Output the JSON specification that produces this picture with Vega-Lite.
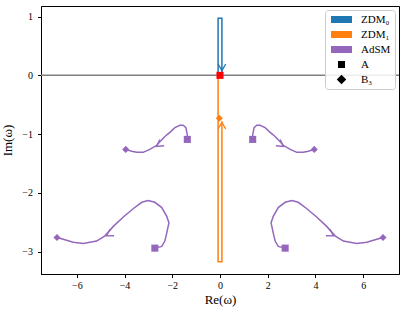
{
  "$schema": "https://vega.github.io/schema/vega-lite/v6.json",
  "width": 358,
  "height": 268,
  "autosize": "none",
  "padding": {"left": 41, "top": 6, "right": 8, "bottom": 40},
  "background": "white",
  "config": {
    "font": "Liberation Serif",
    "view": {"stroke": "black", "strokeWidth": 1},
    "axis": {
      "labelFont": "Liberation Serif",
      "labelFontSize": 10,
      "labelColor": "black",
      "titleFont": "Liberation Serif",
      "titleFontSize": 13,
      "titleFontWeight": "normal",
      "titleColor": "black",
      "tickColor": "black",
      "tickSize": 3.5,
      "domainColor": "black",
      "grid": false
    }
  },
  "datasets": {
    "paths": [
      {"curve": "zdm0", "series": "ZDM₀", "seq": 0, "x": -0.08, "y": 0.0},
      {"curve": "zdm0", "series": "ZDM₀", "seq": 1, "x": -0.08, "y": 0.97},
      {"curve": "zdm0", "series": "ZDM₀", "seq": 2, "x": 0.08, "y": 0.97},
      {"curve": "zdm0", "series": "ZDM₀", "seq": 3, "x": 0.08, "y": 0.0},
      {"curve": "zdm1", "series": "ZDM₁", "seq": 0, "x": -0.08, "y": -0.02},
      {"curve": "zdm1", "series": "ZDM₁", "seq": 1, "x": -0.08, "y": -3.17},
      {"curve": "zdm1", "series": "ZDM₁", "seq": 2, "x": 0.08, "y": -3.17},
      {"curve": "zdm1", "series": "ZDM₁", "seq": 3, "x": 0.08, "y": -0.78},
      {"curve": "ul", "series": "AdSM", "seq": 0, "x": -1.37, "y": -1.09},
      {"curve": "ul", "series": "AdSM", "seq": 1, "x": -1.37, "y": -1.01},
      {"curve": "ul", "series": "AdSM", "seq": 2, "x": -1.43, "y": -0.89},
      {"curve": "ul", "series": "AdSM", "seq": 3, "x": -1.54, "y": -0.85},
      {"curve": "ul", "series": "AdSM", "seq": 4, "x": -1.68, "y": -0.85},
      {"curve": "ul", "series": "AdSM", "seq": 5, "x": -1.89, "y": -0.89},
      {"curve": "ul", "series": "AdSM", "seq": 6, "x": -2.1, "y": -0.97},
      {"curve": "ul", "series": "AdSM", "seq": 7, "x": -2.31, "y": -1.04},
      {"curve": "ul", "series": "AdSM", "seq": 8, "x": -2.52, "y": -1.13},
      {"curve": "ul", "series": "AdSM", "seq": 9, "x": -2.65, "y": -1.19},
      {"curve": "ul", "series": "AdSM", "seq": 10, "x": -2.94, "y": -1.26},
      {"curve": "ul", "series": "AdSM", "seq": 11, "x": -3.22, "y": -1.31},
      {"curve": "ul", "series": "AdSM", "seq": 12, "x": -3.49, "y": -1.31},
      {"curve": "ul", "series": "AdSM", "seq": 13, "x": -3.7, "y": -1.29},
      {"curve": "ul", "series": "AdSM", "seq": 14, "x": -3.95, "y": -1.26},
      {"curve": "ur", "series": "AdSM", "seq": 0, "x": 1.37, "y": -1.09},
      {"curve": "ur", "series": "AdSM", "seq": 1, "x": 1.37, "y": -1.01},
      {"curve": "ur", "series": "AdSM", "seq": 2, "x": 1.43, "y": -0.89},
      {"curve": "ur", "series": "AdSM", "seq": 3, "x": 1.54, "y": -0.85},
      {"curve": "ur", "series": "AdSM", "seq": 4, "x": 1.68, "y": -0.85},
      {"curve": "ur", "series": "AdSM", "seq": 5, "x": 1.89, "y": -0.89},
      {"curve": "ur", "series": "AdSM", "seq": 6, "x": 2.1, "y": -0.97},
      {"curve": "ur", "series": "AdSM", "seq": 7, "x": 2.31, "y": -1.04},
      {"curve": "ur", "series": "AdSM", "seq": 8, "x": 2.52, "y": -1.13},
      {"curve": "ur", "series": "AdSM", "seq": 9, "x": 2.65, "y": -1.19},
      {"curve": "ur", "series": "AdSM", "seq": 10, "x": 2.94, "y": -1.26},
      {"curve": "ur", "series": "AdSM", "seq": 11, "x": 3.22, "y": -1.31},
      {"curve": "ur", "series": "AdSM", "seq": 12, "x": 3.49, "y": -1.31},
      {"curve": "ur", "series": "AdSM", "seq": 13, "x": 3.7, "y": -1.29},
      {"curve": "ur", "series": "AdSM", "seq": 14, "x": 3.95, "y": -1.26},
      {"curve": "ll", "series": "AdSM", "seq": 0, "x": -2.73, "y": -2.94},
      {"curve": "ll", "series": "AdSM", "seq": 1, "x": -2.44, "y": -2.91},
      {"curve": "ll", "series": "AdSM", "seq": 2, "x": -2.31, "y": -2.82},
      {"curve": "ll", "series": "AdSM", "seq": 3, "x": -2.23, "y": -2.68},
      {"curve": "ll", "series": "AdSM", "seq": 4, "x": -2.14, "y": -2.51},
      {"curve": "ll", "series": "AdSM", "seq": 5, "x": -2.23, "y": -2.4},
      {"curve": "ll", "series": "AdSM", "seq": 6, "x": -2.44, "y": -2.25},
      {"curve": "ll", "series": "AdSM", "seq": 7, "x": -2.73, "y": -2.16},
      {"curve": "ll", "series": "AdSM", "seq": 8, "x": -3.01, "y": -2.13},
      {"curve": "ll", "series": "AdSM", "seq": 9, "x": -3.28, "y": -2.16},
      {"curve": "ll", "series": "AdSM", "seq": 10, "x": -3.64, "y": -2.27},
      {"curve": "ll", "series": "AdSM", "seq": 11, "x": -4.05, "y": -2.41},
      {"curve": "ll", "series": "AdSM", "seq": 12, "x": -4.47, "y": -2.57},
      {"curve": "ll", "series": "AdSM", "seq": 13, "x": -4.82, "y": -2.73},
      {"curve": "ll", "series": "AdSM", "seq": 14, "x": -5.17, "y": -2.82},
      {"curve": "ll", "series": "AdSM", "seq": 15, "x": -5.73, "y": -2.86},
      {"curve": "ll", "series": "AdSM", "seq": 16, "x": -6.15, "y": -2.84},
      {"curve": "ll", "series": "AdSM", "seq": 17, "x": -6.57, "y": -2.79},
      {"curve": "ll", "series": "AdSM", "seq": 18, "x": -6.83, "y": -2.76},
      {"curve": "lr", "series": "AdSM", "seq": 0, "x": 2.73, "y": -2.94},
      {"curve": "lr", "series": "AdSM", "seq": 1, "x": 2.44, "y": -2.91},
      {"curve": "lr", "series": "AdSM", "seq": 2, "x": 2.31, "y": -2.82},
      {"curve": "lr", "series": "AdSM", "seq": 3, "x": 2.23, "y": -2.68},
      {"curve": "lr", "series": "AdSM", "seq": 4, "x": 2.14, "y": -2.51},
      {"curve": "lr", "series": "AdSM", "seq": 5, "x": 2.23, "y": -2.4},
      {"curve": "lr", "series": "AdSM", "seq": 6, "x": 2.44, "y": -2.25},
      {"curve": "lr", "series": "AdSM", "seq": 7, "x": 2.73, "y": -2.16},
      {"curve": "lr", "series": "AdSM", "seq": 8, "x": 3.01, "y": -2.13},
      {"curve": "lr", "series": "AdSM", "seq": 9, "x": 3.28, "y": -2.16},
      {"curve": "lr", "series": "AdSM", "seq": 10, "x": 3.64, "y": -2.27},
      {"curve": "lr", "series": "AdSM", "seq": 11, "x": 4.05, "y": -2.41},
      {"curve": "lr", "series": "AdSM", "seq": 12, "x": 4.47, "y": -2.57},
      {"curve": "lr", "series": "AdSM", "seq": 13, "x": 4.82, "y": -2.73},
      {"curve": "lr", "series": "AdSM", "seq": 14, "x": 5.17, "y": -2.82},
      {"curve": "lr", "series": "AdSM", "seq": 15, "x": 5.73, "y": -2.86},
      {"curve": "lr", "series": "AdSM", "seq": 16, "x": 6.15, "y": -2.84},
      {"curve": "lr", "series": "AdSM", "seq": 17, "x": 6.57, "y": -2.79},
      {"curve": "lr", "series": "AdSM", "seq": 18, "x": 6.83, "y": -2.76}
    ],
    "arrows": [
      {"series": "ZDM₀", "x": 0.08, "y": 0.08, "dir": 180},
      {"series": "ZDM₁", "x": 0.08, "y": -0.8, "dir": 0},
      {"series": "AdSM", "x": -2.66, "y": -1.21, "dir": 235},
      {"series": "AdSM", "x": 2.66, "y": -1.21, "dir": 125},
      {"series": "AdSM", "x": -4.76, "y": -2.73, "dir": 240},
      {"series": "AdSM", "x": 4.76, "y": -2.73, "dir": 120}
    ],
    "markers": [
      {"who": "AdSM", "kind": "A", "x": -1.37, "y": -1.09},
      {"who": "AdSM", "kind": "A", "x": 1.37, "y": -1.09},
      {"who": "AdSM", "kind": "A", "x": -2.73, "y": -2.94},
      {"who": "AdSM", "kind": "A", "x": 2.73, "y": -2.94},
      {"who": "AdSM", "kind": "B₃", "x": -3.95, "y": -1.26},
      {"who": "AdSM", "kind": "B₃", "x": 3.95, "y": -1.26},
      {"who": "AdSM", "kind": "B₃", "x": -6.83, "y": -2.76},
      {"who": "AdSM", "kind": "B₃", "x": 6.83, "y": -2.76},
      {"who": "ZDM₁", "kind": "B₃", "x": -0.03, "y": -0.73},
      {"who": "ZDM₀", "kind": "A", "x": 0.0, "y": 0.0}
    ],
    "legend": [
      {"label": "ZDM₀"},
      {"label": "ZDM₁"},
      {"label": "AdSM"},
      {"label": "A"},
      {"label": "B₃"}
    ]
  },
  "resolve": {"scale": {"color": "independent", "shape": "independent"}},
  "layer": [
    {
      "data": {"values": [{"y": 0}]},
      "mark": {"type": "rule", "color": "#808080", "strokeWidth": 1.5},
      "encoding": {"y": {"field": "y", "type": "quantitative"}}
    },
    {
      "data": {"name": "paths"},
      "mark": {"type": "line", "strokeWidth": 1.5, "clip": true},
      "encoding": {
        "x": {"field": "x", "type": "quantitative", "scale": {"domain": [-7.5, 7.5], "nice": false, "zero": false},
              "axis": {"values": [-6, -4, -2, 0, 2, 4, 6], "format": "d", "title": "Re(ω)", "labelPadding": 3, "titlePadding": 3}},
        "y": {"field": "y", "type": "quantitative", "scale": {"domain": [-3.38, 1.18], "nice": false, "zero": false},
              "axis": {"values": [-3, -2, -1, 0, 1], "format": "d", "title": "Im(ω)", "labelPadding": 5, "titlePadding": 7}},
        "color": {"field": "series", "type": "nominal", "legend": null,
                  "scale": {"domain": ["ZDM₀", "ZDM₁", "AdSM"], "range": ["#1f77b4", "#ff7f0e", "#9467bd"]}},
        "detail": {"field": "curve"},
        "order": {"field": "seq", "type": "quantitative"}
      }
    },
    {
      "data": {"name": "arrows"},
      "mark": {"type": "point", "shape": "M-0.8,1.4L0,0L0.8,1.4", "filled": false, "size": 90, "strokeWidth": 1.3, "opacity": 1},
      "encoding": {
        "x": {"field": "x", "type": "quantitative"},
        "y": {"field": "y", "type": "quantitative"},
        "angle": {"field": "dir", "type": "quantitative", "scale": null},
        "color": {"field": "series", "type": "nominal", "legend": null,
                  "scale": {"domain": ["ZDM₀", "ZDM₁", "AdSM"], "range": ["#1f77b4", "#ff7f0e", "#9467bd"]}}
      }
    },
    {
      "data": {"name": "markers"},
      "mark": {"type": "point", "filled": true, "size": 50, "opacity": 1},
      "encoding": {
        "x": {"field": "x", "type": "quantitative"},
        "y": {"field": "y", "type": "quantitative"},
        "shape": {"field": "kind", "type": "nominal", "legend": null,
                  "scale": {"domain": ["A", "B₃"], "range": ["square", "diamond"]}},
        "color": {"field": "who", "type": "nominal", "legend": null,
                  "scale": {"domain": ["ZDM₀", "ZDM₁", "AdSM"], "range": ["#ff0000", "#ff7f0e", "#9467bd"]}}
      }
    },
    {
      "data": {"name": "legend"},
      "mark": {"type": "point", "filled": true, "size": 0},
      "encoding": {
        "color": {"field": "label", "type": "nominal",
                  "scale": {"domain": ["ZDM₀", "ZDM₁", "AdSM", "A", "B₃"], "range": ["#1f77b4", "#ff7f0e", "#9467bd", "black", "black"]},
                  "legend": {"title": null, "orient": "top-right", "offset": 4, "padding": 4,
                             "strokeColor": "#cccccc", "cornerRadius": 3, "fillColor": "rgba(255,255,255,0.85)",
                             "symbolSize": 49, "symbolOpacity": 1, "symbolStrokeWidth": 0,
                             "labelFont": "Liberation Serif", "labelFontSize": 11, "labelColor": "black",
                             "labelOffset": 21, "rowPadding": 3,
                             "encode": {"symbols": {"update": {"opacity": {"value": 1}, "fillOpacity": {"value": 1}, "size": {"value": 49}}}}}},
        "shape": {"field": "label", "type": "nominal",
                  "scale": {"domain": ["ZDM₀", "ZDM₁", "AdSM", "A", "B₃"],
                            "range": ["M-1,-1H5V1H-1Z", "M-1,-1H5V1H-1Z", "M-1,-1H5V1H-1Z", "M1,-1H3V1H1Z", "M2,-1.35L3.35,0L2,1.35L0.65,0Z"]},
                  "legend": {"title": null, "orient": "top-right"}}
      }
    }
  ]
}
